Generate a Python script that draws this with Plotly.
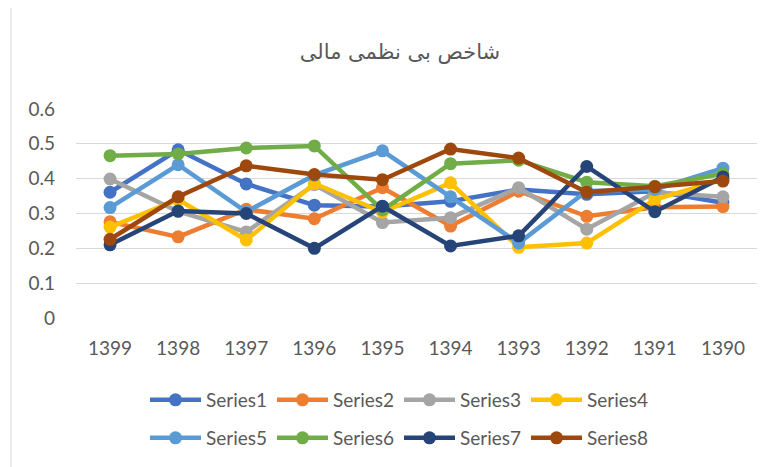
import plotly.graph_objects as go

years = ["1399", "1398", "1397", "1396", "1395", "1394", "1393", "1392", "1391", "1390"]

series1 = [0.361, 0.483, 0.385, 0.324, 0.320, 0.335, 0.369, 0.355, 0.364, 0.331]
series2 = [0.276, 0.233, 0.312, 0.285, 0.374, 0.264, 0.364, 0.292, 0.318, 0.320]
series3 = [0.399, 0.306, 0.247, 0.383, 0.274, 0.288, 0.374, 0.255, 0.360, 0.348]
series4 = [0.261, 0.340, 0.224, 0.386, 0.304, 0.388, 0.203, 0.215, 0.340, 0.397]
series5 = [0.317, 0.440, 0.305, 0.410, 0.480, 0.348, 0.215, 0.365, 0.369, 0.430]
series6 = [0.466, 0.471, 0.488, 0.494, 0.310, 0.443, 0.453, 0.390, 0.378, 0.414]
series7 = [0.210, 0.307, 0.300, 0.200, 0.321, 0.207, 0.236, 0.435, 0.305, 0.405]
series8 = [0.226, 0.348, 0.437, 0.412, 0.397, 0.485, 0.459, 0.361, 0.377, 0.393]

names = ["Series1", "Series2", "Series3", "Series4", "Series5", "Series6", "Series7", "Series8"]
values = [series1, series2, series3, series4, series5, series6, series7, series8]
colors = ["#4472C4", "#ED7D31", "#A5A5A5", "#FFC000", "#5B9BD5", "#70AD47", "#264478", "#9E480E"]

title_text = "شاخص بی نظمی مالی"
yticks = [0, 0.1, 0.2, 0.3, 0.4, 0.5, 0.6]
ytick_labels = ["0", "0.1", "0.2", "0.3", "0.4", "0.5", "0.6"]

fig = go.Figure()
for i, (name, vals, col) in enumerate(zip(names, values, colors)):
    fig.add_trace(go.Scatter(
        x=years, y=vals, name=name, mode="lines+markers",
        line=dict(color=col, width=4.5),
        marker=dict(color=col, size=13),
        legend="legend" if i < 4 else "legend2",
    ))

# page body has an 8px default margin, so the figure is drawn 8px smaller
W, H = 765, 459
L, R, T, B = 68, 16, 101, 148
pw = W - L - R
ph = H - T - B

leg_common = dict(orientation="h", xanchor="left", yanchor="middle",
                  entrywidth=61, entrywidthmode="pixels",
                  font=dict(size=19, color="#595959"), itemwidth=51,
                  bgcolor="rgba(0,0,0,0)")

fig.update_layout(
    width=W, height=H,
    margin=dict(l=L, r=R, t=T, b=B),
    paper_bgcolor="white", plot_bgcolor="white",
    font=dict(family="Lato, 'Open Sans', sans-serif", color="#595959", size=18),
    title=dict(text=title_text, x=392 / W, xanchor="center", y=1 - 44 / H, yanchor="middle",
               font=dict(family="'DejaVu Serif', 'DejaVu Sans', serif", size=21, color="#595959")),
    xaxis=dict(type="category", range=[-0.5, 9.5], showgrid=False, showline=False, zeroline=False,
               ticks="", tickfont=dict(size=19, color="#595959"), ticklabelstandoff=17),
    yaxis=dict(range=[0, 0.6], tickvals=yticks, ticktext=ytick_labels, showgrid=True,
               gridcolor="#D9D9D9", gridwidth=1, zeroline=False, showline=False, ticks="",
               tickfont=dict(size=19, color="#595959"), ticklabelstandoff=20),
    legend=dict(x=(137 - L) / pw, y=(311 - 392) / ph, **leg_common),
    legend2=dict(x=(137 - L) / pw, y=(311 - 430) / ph, **leg_common),
    showlegend=True,
)

fig.add_shape(type="line", xref="paper", yref="paper",
              x0=(3 - L) / pw, x1=(3 - L) / pw, y0=-(H - T) / ph - 0.1, y1=1 + T / ph + 0.1,
              line=dict(color="#D9D9D9", width=1))

fig.write_html("out.html")
